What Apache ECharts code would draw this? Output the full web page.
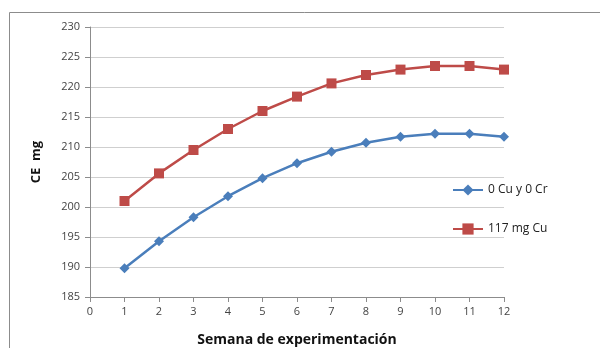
<!DOCTYPE html>
<html><head><meta charset="utf-8">
<script src="https://cdn.jsdelivr.net/npm/echarts@6/dist/echarts.min.js"></script>
<style>html,body{margin:0;padding:0;background:#fff}#c{width:600px;height:348px}</style>
</head><body><div id="c"></div>
<script>
const weeks = [1,2,3,4,5,6,7,8,9,10,11,12];
const seriesNames = ['0 Cu y 0 Cr', '117 mg Cu'];
const ctrl = [189.8,194.3,198.3,201.8,204.8,207.3,209.2,210.7,211.7,212.2,212.2,211.7];
const cu = [201.0,205.6,209.5,213.0,216.0,218.4,220.6,222.0,222.9,223.5,223.5,222.9];
const yTitle = 'CE  mg';
const xTitle = 'Semana de experimentación';

const chart = echarts.init(document.getElementById('c'));
const font = 'Open Sans';
chart.setOption({
  animation: false,
  backgroundColor: '#fff',
  textStyle: {fontFamily: font},
  graphic: [
    {type:'line', shape:{x1:9.5,y1:12.5,x2:600,y2:12.5}, style:{stroke:'#8c8c8c',lineWidth:1}},
    {type:'line', shape:{x1:9.5,y1:12.5,x2:9.5,y2:348}, style:{stroke:'#8c8c8c',lineWidth:1}}
  ],
  grid: {left: 90, top: 27, width: 414, height: 270, containLabel: false, outerBoundsMode: 'none'},
  legend: {
    orient: 'vertical', left: 447, top: 179, itemGap: 27, itemWidth: 30, itemHeight: 14,
    textStyle: {fontSize: 12, color: '#222', fontFamily: font},
    data: seriesNames
  },
  xAxis: {
    type: 'value', min: 0, max: 12, interval: 1,
    name: xTitle, nameLocation: 'middle', nameGap: 36,
    nameTextStyle: {fontSize: 14, fontWeight: 'bold', color: '#111'},
    axisLine: {show: true, lineStyle: {color: '#8c8c8c'}},
    axisTick: {show: true, length: 5, lineStyle: {color: '#8c8c8c'}},
    axisLabel: {fontSize: 11, color: '#444', margin: 9},
    splitLine: {show: false}
  },
  yAxis: {
    type: 'value', min: 185, max: 230, interval: 5,
    name: yTitle, nameLocation: 'middle', nameGap: 47, nameRotate: 90,
    nameTextStyle: {fontSize: 13, fontWeight: 'bold', color: '#111'},
    axisLine: {show: true, lineStyle: {color: '#8c8c8c'}},
    axisTick: {show: true, length: 5, lineStyle: {color: '#8c8c8c'}},
    axisLabel: {fontSize: 11, color: '#444', margin: 10},
    splitLine: {show: true, lineStyle: {color: '#cfcfcf'}}
  },
  series: [
    {name: seriesNames[0], type: 'line', data: weeks.map((w,i)=>[w, ctrl[i]]),
     symbol: 'diamond', symbolSize: 10, color: '#4a7ebb',
     lineStyle: {width: 2.5, color: '#4a7ebb'}, itemStyle: {color: '#4a7ebb'}},
    {name: seriesNames[1], type: 'line', data: weeks.map((w,i)=>[w, cu[i]]),
     symbol: 'rect', symbolSize: 10, color: '#be4b48',
     lineStyle: {width: 2.5, color: '#be4b48'}, itemStyle: {color: '#be4b48'}}
  ]
});
</script></body></html>
